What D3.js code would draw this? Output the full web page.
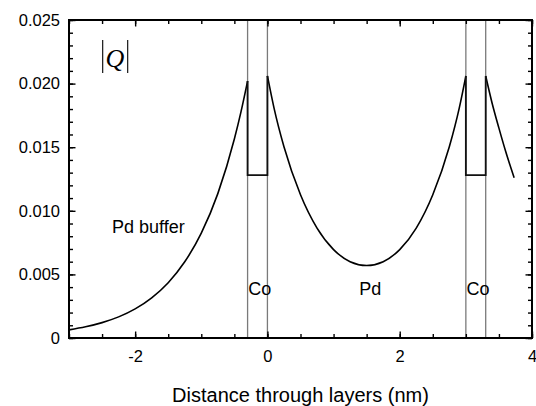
<!DOCTYPE html>
<html>
<head>
<meta charset="utf-8">
<script src="https://cdn.jsdelivr.net/npm/d3@7"></script>
<style>
  html, body { margin: 0; padding: 0; background: #fff; }
  svg { display: block; font-family: "Liberation Sans", Arial, Helvetica, sans-serif; }
</style>
</head>
<body>
<svg id="chart" width="536" height="406"></svg>
<script>
// |Q| profile through a Pd / Co / Pd / Co stack (distance in nm)

// Pd buffer, left of the first Co layer
const bufferX = [-3.0, -2.75, -2.5, -2.25, -2.0, -1.75, -1.5, -1.25, -1.0, -0.75, -0.5, -0.4, -0.3];
const bufferQ = [0.00064, 0.00088, 0.00121, 0.00166, 0.00229, 0.00316, 0.00435, 0.00599, 0.00824, 0.01135, 0.01564, 0.01778, 0.0202];

// Pd spacer between the two Co layers
const spacerX = [0.0, 0.1, 0.25, 0.5, 0.75, 1.0, 1.25, 1.5, 1.75, 2.0, 2.25, 2.5, 2.75, 2.9, 3.0];
const spacerQ = [0.0206, 0.01807, 0.01503, 0.01126, 0.00864, 0.00695, 0.0060, 0.0057, 0.0060, 0.00695, 0.00864, 0.01126, 0.01503, 0.01807, 0.0206];

// Pd cap, right of the second Co layer
const capX = [3.3, 3.4, 3.5, 3.6, 3.73];
const capQ = [0.0206, 0.0184, 0.0165, 0.0147, 0.0126];

// Co layers: [start, end] positions and the flat |Q| level inside them
const coStart = [-0.3, 3.0];
const coEnd = [0.0, 3.3];
const coQ = [0.0128, 0.0128];
const coTopLeft = [0.0202, 0.0206];
const coTopRight = [0.0206, 0.0206];

// Axis ticks
const xMajor = [-2, 0, 2, 4];
const xMinor = [-3, -2.5, -2, -1.5, -1, -0.5, 0, 0.5, 1, 1.5, 2, 2.5, 3, 3.5, 4];
const yMajor = [0, 0.005, 0.010, 0.015, 0.020, 0.025];
const yMinor = d3.range(0, 26).map(i => i / 1000);

// Region labels
const regionLabels = [
  { text: "Pd buffer", x: -2.35, y: 0.00825, anchor: "start" },
  { text: "Co", x: -0.29, y: 0.00340, anchor: "start" },
  { text: "Pd", x: 1.39, y: 0.00340, anchor: "start" },
  { text: "Co", x: 3.01, y: 0.00340, anchor: "start" }
];

const SANS = "'Liberation Sans', Arial, Helvetica, sans-serif";
const SERIF = "'Liberation Serif', 'Times New Roman', serif";

const svg = d3.select("#chart");
const m = { left: 69, right: 4, top: 20, bottom: 68 };
const W = 536, H = 406;
const iw = W - m.left - m.right, ih = H - m.top - m.bottom;

const x = d3.scaleLinear().domain([-3, 4]).range([m.left, m.left + iw]);
const y = d3.scaleLinear().domain([0, 0.025]).range([m.top + ih, m.top]);

// Co layer boundaries (full-height grey lines)
const bounds = coStart.concat(coEnd);
svg.append("g").selectAll("line").data(bounds).join("line")
  .attr("x1", d => x(d)).attr("x2", d => x(d))
  .attr("y1", y(0)).attr("y2", y(0.025))
  .attr("stroke", "#7a7a7a").attr("stroke-width", 1.3);

// Inward ticks on all four sides
function tickAxis(axisFn, scale, vals, size, transform) {
  const g = svg.append("g").attr("transform", transform)
    .call(axisFn(scale).tickValues(vals).tickSize(-size).tickFormat(""));
  g.select(".domain").remove();
  g.selectAll(".tick line").attr("stroke", "#000").attr("stroke-width", 1.4);
  return g;
}
tickAxis(d3.axisLeft, y, yMinor, 4, `translate(${m.left},0)`);
tickAxis(d3.axisRight, y, yMinor, 4, `translate(${m.left + iw},0)`);
tickAxis(d3.axisBottom, x, xMinor, 4, `translate(0,${m.top + ih})`);
tickAxis(d3.axisTop, x, xMinor, 4, `translate(0,${m.top})`);
tickAxis(d3.axisLeft, y, yMajor, 6.5, `translate(${m.left},0)`);
tickAxis(d3.axisRight, y, yMajor, 6.5, `translate(${m.left + iw},0)`);
tickAxis(d3.axisBottom, x, xMajor, 6.5, `translate(0,${m.top + ih})`);
tickAxis(d3.axisTop, x, xMajor, 6.5, `translate(0,${m.top})`);

// Labelled axes
const yAxis = svg.append("g").attr("transform", `translate(${m.left},0)`)
  .call(d3.axisLeft(y).tickValues(yMajor).tickSize(0).tickPadding(9)
    .tickFormat(d => d === 0 ? "0" : d.toFixed(3)));
yAxis.select(".domain").remove();
yAxis.attr("font-size", null).attr("font-family", null);
yAxis.selectAll("text").style("font-size", "16.5px").style("font-family", SANS).attr("fill", "#000");

const xAxis = svg.append("g").attr("transform", `translate(0,${m.top + ih})`)
  .call(d3.axisBottom(x).tickValues(xMajor).tickSize(0).tickPadding(12)
    .tickFormat(d => String(d)));
xAxis.select(".domain").remove();
xAxis.selectAll("text").style("font-size", "16.5px").style("font-family", SANS).attr("fill", "#000");

// Frame
svg.append("rect")
  .attr("x", m.left).attr("y", m.top).attr("width", iw).attr("height", ih)
  .attr("fill", "none").attr("stroke", "#000").attr("stroke-width", 2);

// |Q| curve in the Pd regions
const line = d3.line().x(d => x(d[0])).y(d => y(d[1])).curve(d3.curveMonotoneX);
const segs = [
  d3.zip(bufferX, bufferQ),
  d3.zip(spacerX, spacerQ),
  d3.zip(capX, capQ)
];
svg.append("g").selectAll("path").data(segs).join("path")
  .attr("d", line)
  .attr("fill", "none").attr("stroke", "#000").attr("stroke-width", 1.6);

// Flat |Q| inside each Co layer, joined by vertical jumps
const straight = d3.line().x(d => x(d[0])).y(d => y(d[1]));
const coPaths = coStart.map((s, i) => [
  [s, coTopLeft[i]], [s, coQ[i]], [coEnd[i], coQ[i]], [coEnd[i], coTopRight[i]]
]);
svg.append("g").selectAll("path").data(coPaths).join("path")
  .attr("d", straight)
  .attr("fill", "none").attr("stroke", "#111").attr("stroke-width", 1.8);

// Region labels
svg.append("g").selectAll("text").data(regionLabels).join("text")
  .attr("x", d => x(d.x)).attr("y", d => y(d.y))
  .attr("text-anchor", d => d.anchor)
  .style("font-family", SANS)
  .style("font-size", "18px")
  .text(d => d.text);

// |Q| symbol
const qx = 115;
svg.append("g").selectAll("line").data([102.7, 127.7]).join("line")
  .attr("x1", d => d).attr("x2", d => d)
  .attr("y1", 40).attr("y2", 73)
  .attr("stroke", "#000").attr("stroke-width", 1.1);
svg.append("text")
  .attr("x", qx).attr("y", 66.5)
  .attr("text-anchor", "middle")
  .style("font-family", SERIF)
  .style("font-style", "italic")
  .style("font-size", "26px")
  .text("Q");

// Axis title
svg.append("text")
  .attr("x", m.left + iw / 2).attr("y", 402)
  .attr("text-anchor", "middle")
  .style("font-family", SANS)
  .style("font-size", "20px")
  .text("Distance through layers (nm)");
</script>
</body>
</html>
